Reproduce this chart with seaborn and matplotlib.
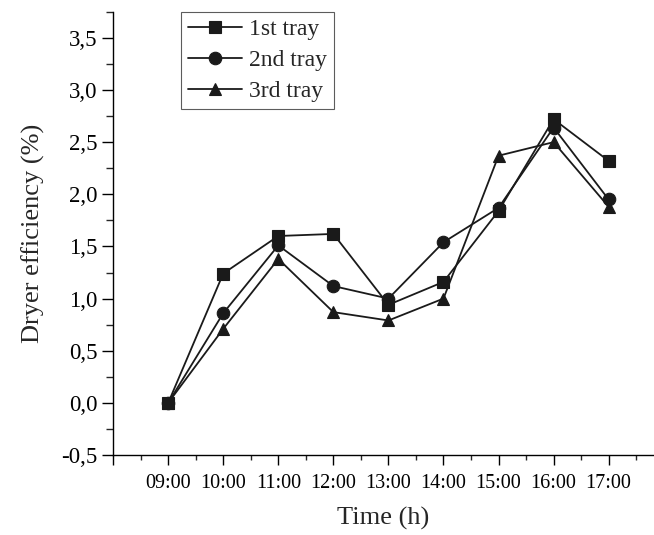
import matplotlib
matplotlib.use("Agg")
import matplotlib.pyplot as plt
import seaborn as sns
import pandas as pd
from matplotlib.ticker import MultipleLocator, FixedLocator

times = ["09:00", "10:00", "11:00", "12:00", "13:00", "14:00", "15:00", "16:00", "17:00"]
tray1 = [0.0, 1.24, 1.60, 1.62, 0.94, 1.16, 1.84, 2.72, 2.32]
tray2 = [0.0, 0.86, 1.51, 1.12, 1.00, 1.54, 1.87, 2.64, 1.95]
tray3 = [0.0, 0.71, 1.38, 0.87, 0.79, 1.00, 2.37, 2.50, 1.88]
series_names = ["1st tray", "2nd tray", "3rd tray"]
markers = ["s", "o", "^"]

sns.set_theme(style="ticks")
plt.rcParams["font.family"] = ["Liberation Serif", "DejaVu Serif"]

rows = []
for name, vals in zip(series_names, [tray1, tray2, tray3]):
    for i, (t, v) in enumerate(zip(times, vals)):
        rows.append({"idx": i, "time": t, "value": v, "series": name})
df = pd.DataFrame(rows)

fig = plt.figure(figsize=(6.54, 5.35), dpi=100)
ax = fig.add_axes([0.173, 0.1495, 0.825, 0.8285])

for name, m in zip(series_names, markers):
    sub = df[df["series"] == name]
    sns.lineplot(data=sub, x="idx", y="value", ax=ax, color="#1a1a1a", marker=m,
                 markersize=8.5 if m != "o" else 9, markeredgecolor="#1a1a1a",
                 markeredgewidth=0.8, linewidth=1.3, label=name)

ax.set_xlim(-1, 8.8)
ax.set_ylim(-0.5, 3.75)
ax.xaxis.set_major_locator(FixedLocator(list(range(-1, 9))))
ax.set_xticklabels([""] + times)
ax.xaxis.set_minor_locator(FixedLocator([i + 0.5 for i in range(-1, 9)]))
ax.yaxis.set_major_locator(MultipleLocator(0.5))
ax.yaxis.set_minor_locator(MultipleLocator(0.25))
ax.yaxis.set_major_formatter(matplotlib.ticker.FuncFormatter(lambda v, p: f"{v:.1f}".replace(".", ",")))

for s in ["top", "right"]:
    ax.spines[s].set_visible(False)
for s in ["left", "bottom"]:
    ax.spines[s].set_linewidth(1.0)
    ax.spines[s].set_color("black")
ax.tick_params(axis="y", which="major", direction="out", length=8, width=1.0, labelsize=16.5, colors="black", pad=3)
ax.tick_params(axis="y", which="minor", direction="out", length=5, width=1.0)
ax.tick_params(axis="x", which="major", direction="out", length=7, width=1.0, labelsize=14.5, colors="black", pad=7)
ax.tick_params(axis="x", which="minor", direction="out", length=3.5, width=1.0)

ax.set_xlabel("Time (h)", fontsize=19, labelpad=10)
ax.set_ylabel("Dryer efficiency (%)", fontsize=19, labelpad=12)

leg = ax.legend(loc="upper left", bbox_to_anchor=(0.125, 1.0), frameon=True, fancybox=False,
                fontsize=17, handlelength=2.3, borderpad=0.3, labelspacing=0.4,
                handletextpad=0.3, borderaxespad=0.0)
leg.get_frame().set_edgecolor("#333333")
leg.get_frame().set_linewidth(0.8)

fig.savefig("out.png", dpi=100)
